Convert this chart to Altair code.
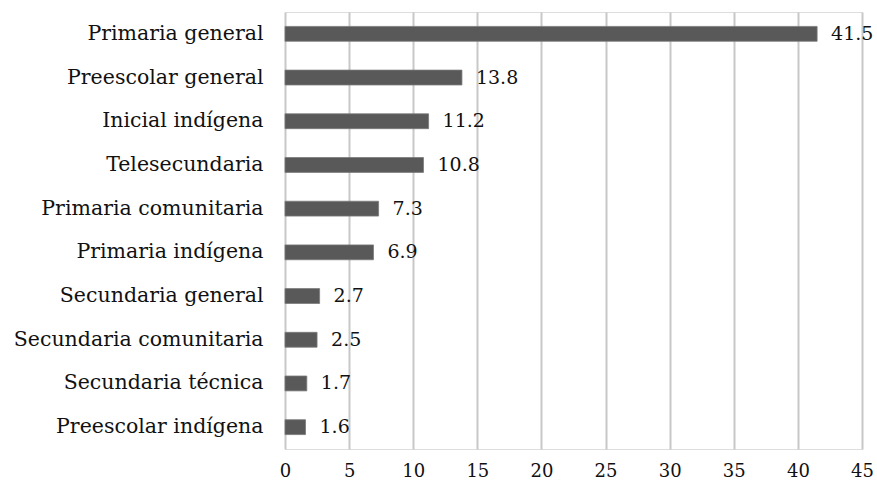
import altair as alt
import pandas as pd

categorias = [
    "Primaria general",
    "Preescolar general",
    "Inicial indígena",
    "Telesecundaria",
    "Primaria comunitaria",
    "Primaria indígena",
    "Secundaria general",
    "Secundaria comunitaria",
    "Secundaria técnica",
    "Preescolar indígena",
]
valores = [41.5, 13.8, 11.2, 10.8, 7.3, 6.9, 2.7, 2.5, 1.7, 1.6]
ticks_x = [0, 5, 10, 15, 20, 25, 30, 35, 40, 45]

df = pd.DataFrame({"categoria": categorias, "valor": valores})

FONT = "DejaVu Serif, Liberation Serif, serif"

y_enc = alt.Y(
    "categoria:N",
    sort=categorias,
    title=None,
    scale=alt.Scale(paddingInner=0.66, paddingOuter=0.33),
    axis=alt.Axis(
        domain=False, ticks=False, labelFont=FONT, labelFontSize=20.5,
        labelColor="#111111", labelPadding=22, labelLimit=400,
    ),
)
x_enc = alt.X(
    "valor:Q",
    title=None,
    scale=alt.Scale(domain=[0, 45], nice=False),
    axis=alt.Axis(
        values=ticks_x, domain=False, ticks=False, grid=True,
        gridColor="#c8c8c8", gridWidth=2, labelFont=FONT, labelFontSize=18,
        labelColor="#111111", labelPadding=13, labelFlush=False,
    ),
)

bars = alt.Chart(df).mark_bar(color="#595959", stroke="#7a7a7a", strokeWidth=0.8).encode(
    x=x_enc, y=y_enc
)
labels = alt.Chart(df).mark_text(
    align="left", baseline="middle", dx=14, font=FONT, fontSize=19, color="#111111"
).encode(
    x="valor:Q", y=alt.Y("categoria:N", sort=categorias), text=alt.Text("valor:Q", format=".1f")
)

chart = (
    alt.layer(bars, labels)
    .properties(
        width=577, height=437,
        autosize=alt.AutoSizeParams(type="none"),
        padding={"left": 285, "top": 12, "right": 15, "bottom": 40},
    )
    .configure_view(stroke=None)
    .configure(background="white")
)

chart.save("out.html", embed_options={"renderer": "svg", "actions": False})
